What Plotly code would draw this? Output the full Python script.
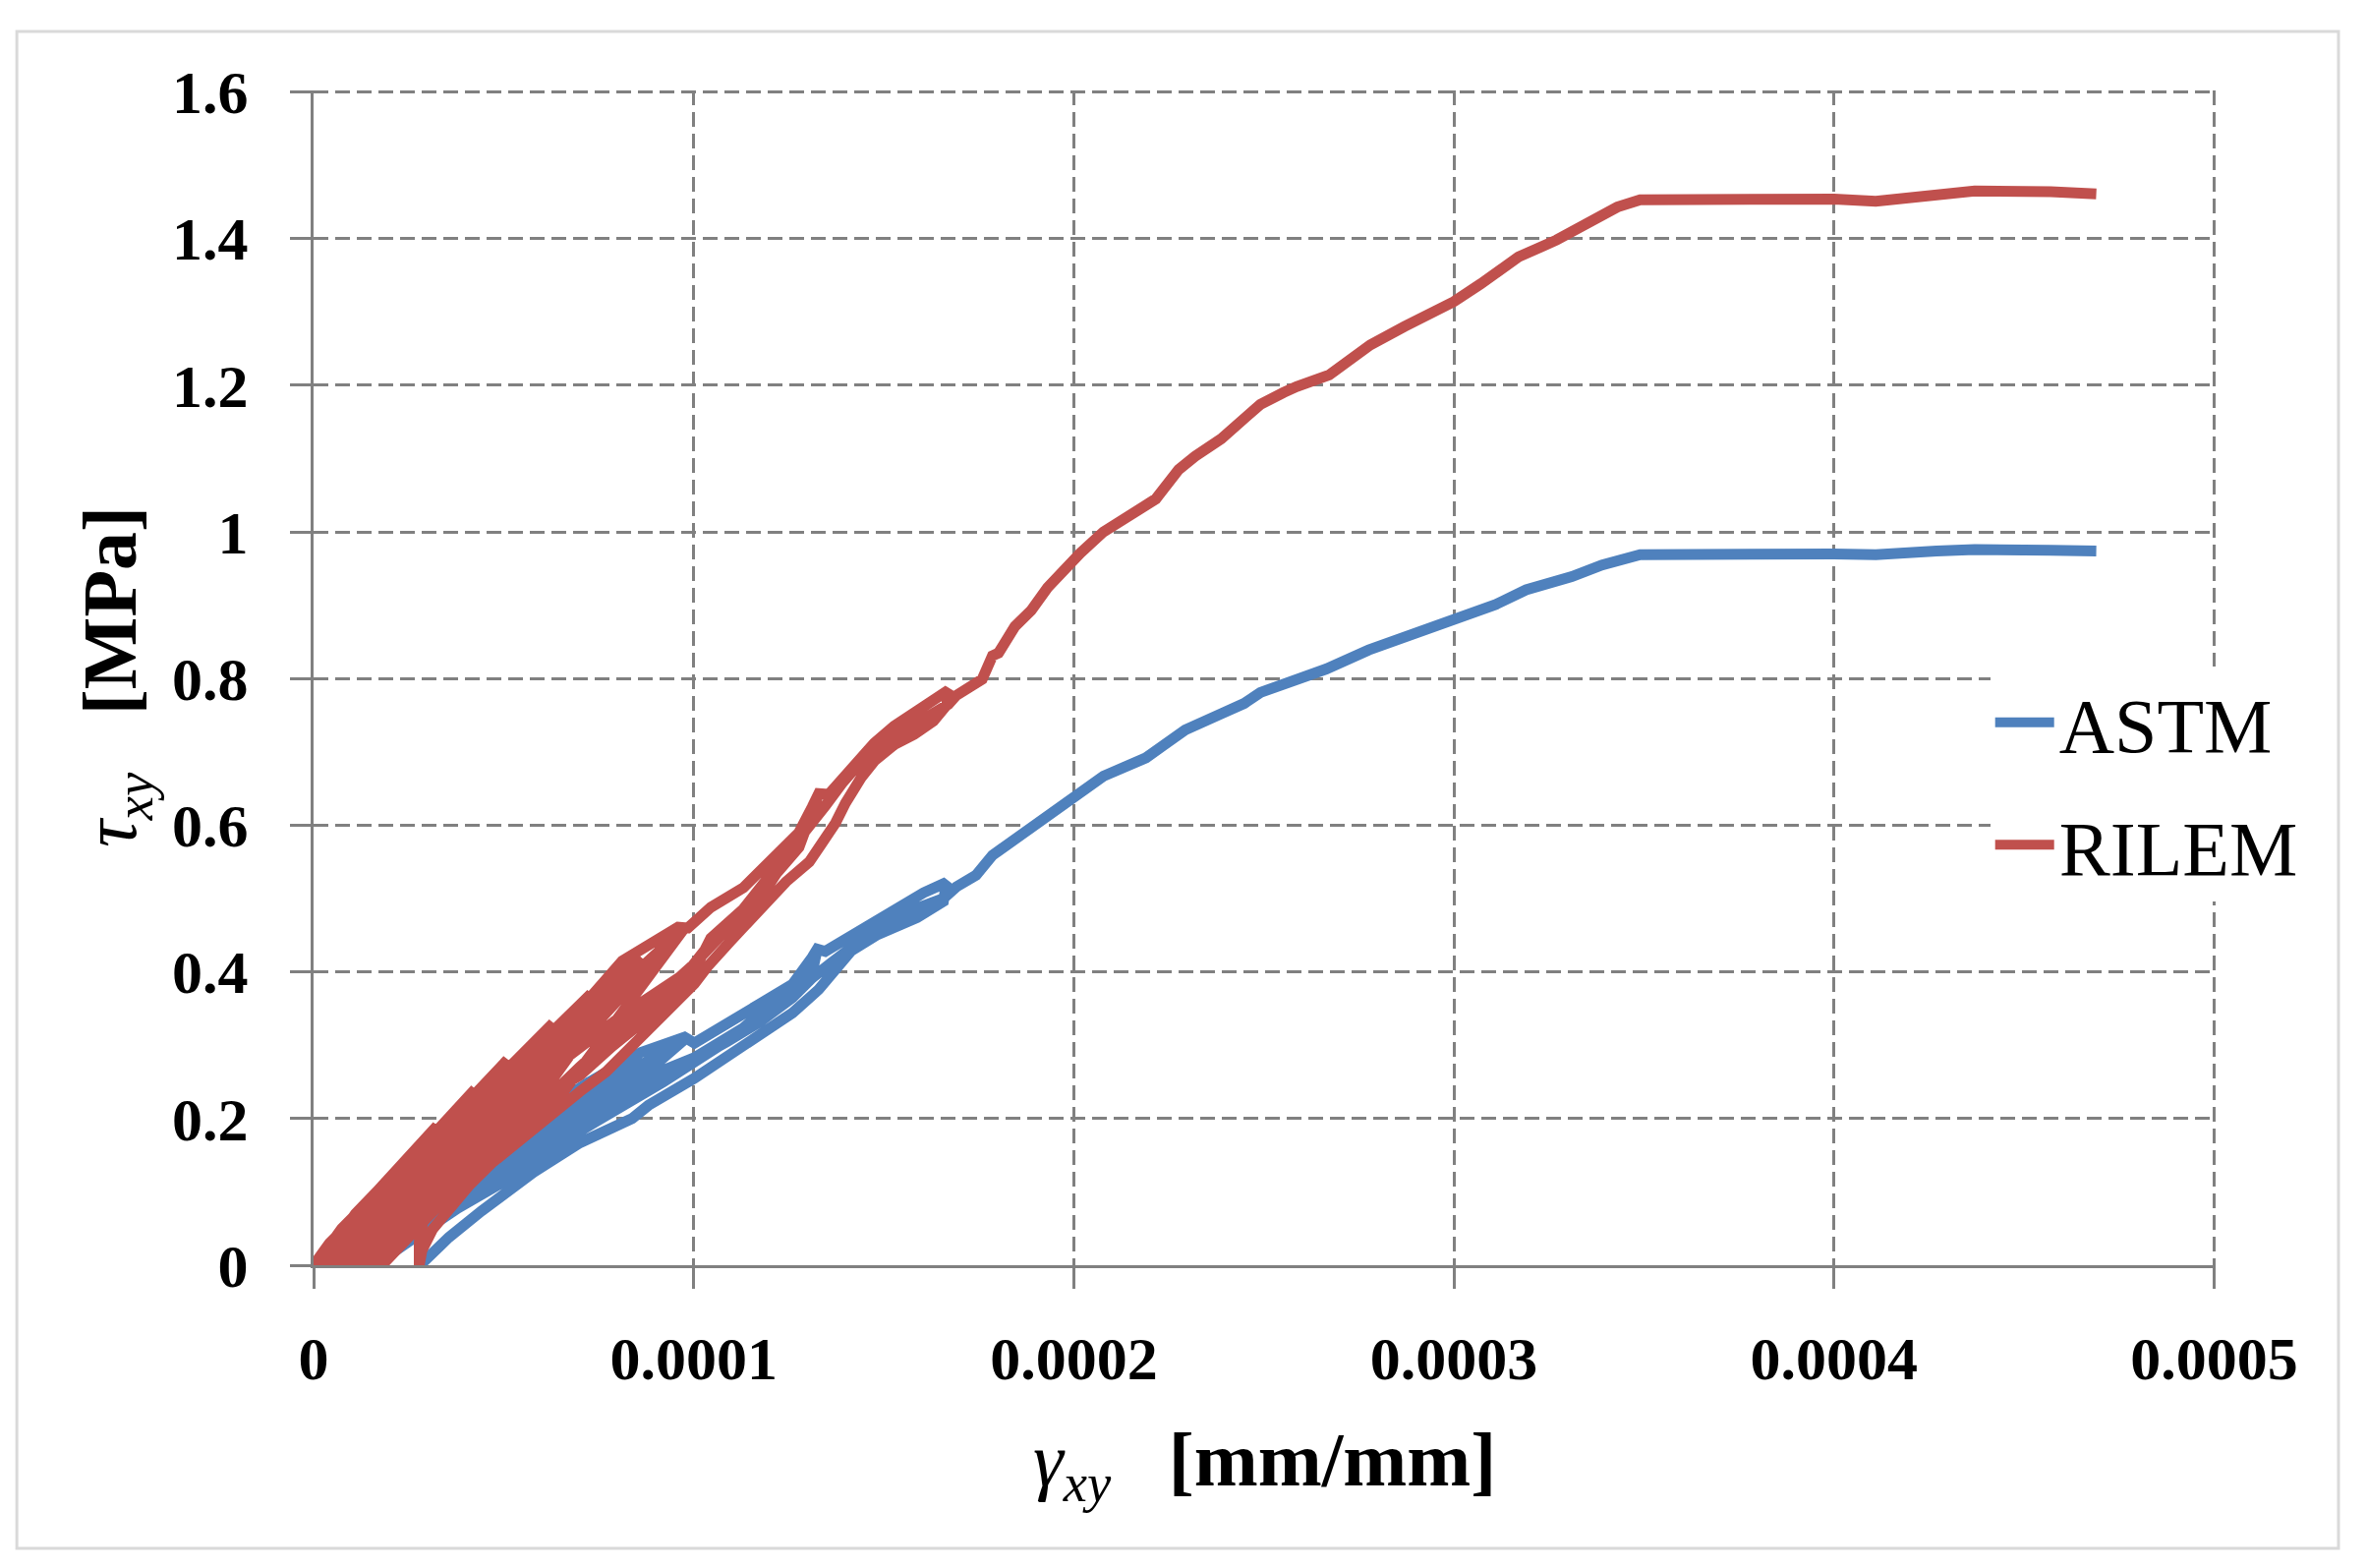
"""Shear stress vs shear strain of masonry panels, ASTM vs RILEM diagonal compression test."""

import numpy as np
import plotly.graph_objects as go

# (shear strain in micro-strain [x 1e-6 mm/mm], shear stress [MPa]).
# Each test: small loading/unloading cycles, larger cycles, then the final monotonic branch.
astm_small_cycles = [
    (0, 0), (5.5, 0.025), (13, 0.05), (8.2, 0.025), (1, 0),
    (7, 0.025), (13, 0.05), (1.5, 0),
    (12.2, 0.05), (27, 0.1), (17, 0.05), (2, 0),
    (14.5, 0.05), (27, 0.1), (3, 0),
    (18.5, 0.075), (40, 0.15), (26.3, 0.075), (5.8, 0),
    (22.9, 0.075), (40, 0.15), (5.8, 0),
    (26.5, 0.1), (55, 0.2), (35.8, 0.1), (7, 0),
    (31, 0.1), (55, 0.2), (7.5, 0),
    (34.8, 0.125), (72.6, 0.25), (47.2, 0.125), (9, 0),
    (40.8, 0.125), (72.6, 0.25), (9.5, 0),
    (41.6, 0.143), (86, 0.285), (55.8, 0.143), (10.5, 0),
    (48.3, 0.143), (86, 0.285), (11, 0),
    (47.4, 0.154), (97.6, 0.308), (63.4, 0.154), (12, 0),
    (54.8, 0.154), (97.6, 0.308), (16, 0),
]
astm_large_cycles = [
    (35, 0.08), (55, 0.16), (72, 0.215), (86, 0.255), (91.6, 0.265), (100.2, 0.283),
    (108.8, 0.31), (117.4, 0.337), (126, 0.372), (131.2, 0.4), (132.5, 0.431),
    (128, 0.39), (110, 0.31), (92, 0.25), (74, 0.195), (50, 0.12), (30, 0.05), (16, 0),
    (48, 0.154), (72.6, 0.25), (86, 0.29), (97.6, 0.311), (100.2, 0.303), (108.8, 0.33),
    (117.4, 0.356), (126, 0.383), (131.2, 0.42), (132.5, 0.431), (134.6, 0.428),
    (143.3, 0.455), (151.9, 0.485), (160.5, 0.508), (166.5, 0.522),
    (165.7, 0.496), (158.8, 0.474), (151.9, 0.458), (148.4, 0.451), (141.5, 0.429),
    (136.4, 0.398), (132.9, 0.376), (126, 0.344), (117.4, 0.313), (108.8, 0.282),
    (100.2, 0.255), (88.1, 0.218), (83.8, 0.2), (70.1, 0.167), (57.9, 0.127),
    (44.2, 0.074), (35.6, 0.038), (28, 0),
    (29, 0.035), (34, 0.068), (42, 0.1), (53, 0.14), (66, 0.18), (78, 0.215), (92, 0.262),
    (100.2, 0.28), (108.8, 0.305), (117.4, 0.332), (126, 0.365), (131.2, 0.392),
    (136.4, 0.413), (143.3, 0.44), (151.9, 0.474), (160.5, 0.49), (165.7, 0.5), (169.1, 0.516),
]
astm_final = [
    (174.3, 0.532), (178.6, 0.559), (184.6, 0.581), (193.2, 0.617), (200, 0.638),
    (207.8, 0.667), (219, 0.692), (221.6, 0.701), (229.3, 0.73), (238.8, 0.752),
    (244.8, 0.766), (249.1, 0.781), (256.9, 0.795), (266.4, 0.813), (277.6, 0.839),
    (286.2, 0.855), (296.6, 0.871), (305.2, 0.888), (311, 0.901), (319, 0.921),
    (331, 0.939), (339, 0.955), (349, 0.969), (400, 0.97), (411, 0.969),
    (427, 0.974), (437, 0.976), (457, 0.975), (469, 0.974),
]

rilem_small_cycles = [
    (0, 0), (4.2, 0.03), (10, 0.06), (0.5, 0),
    (7.4, 0.05), (17, 0.1), (10.6, 0.05), (1, 0),
    (9, 0.05), (17, 0.1), (1.5, 0),
    (11, 0.07), (24, 0.14), (15.6, 0.07), (3, 0),
    (13.5, 0.07), (24, 0.14), (3.5, 0),
    (15.7, 0.095), (32.5, 0.19), (21.8, 0.095), (5.8, 0),
    (19.2, 0.095), (32.5, 0.19), (5.8, 0),
    (21.2, 0.12), (42.5, 0.24), (27.8, 0.12), (5.8, 0),
    (24.2, 0.12), (42.5, 0.24), (7, 0),
    (25.5, 0.14), (51, 0.28), (33.8, 0.14), (8, 0),
    (29.5, 0.14), (51, 0.28), (8.5, 0),
    (31.4, 0.165), (63, 0.33), (41.8, 0.165), (10, 0),
    (36.5, 0.165), (63, 0.33), (10, 0),
    (36.5, 0.185), (73, 0.37), (47.8, 0.185), (10, 0),
    (41.5, 0.185), (73, 0.37), (11.5, 0),
    (42.8, 0.21), (86, 0.42), (56.8, 0.21), (13, 0),
    (49.5, 0.21), (86, 0.42), (14, 0),
    (49.1, 0.23), (97.6, 0.46), (64.8, 0.23), (15.7, 0),
    (56.7, 0.23), (97.6, 0.46), (15.7, 0),
]
rilem_large_cycles = [
    (30, 0.09), (46.7, 0.2), (64, 0.273), (81, 0.34), (98.4, 0.4), (104.5, 0.44),
    (113.1, 0.482), (121.7, 0.536), (127.7, 0.57), (132.9, 0.643),
    (130, 0.6), (120, 0.52), (100, 0.41), (70, 0.27), (40, 0.12), (18, 0),
    (50, 0.23), (81.2, 0.415), (87.2, 0.433), (95.9, 0.461), (98.5, 0.46), (104.5, 0.488),
    (113.1, 0.515), (121.7, 0.56), (127.7, 0.59), (131.2, 0.625), (132.9, 0.643),
    (135.5, 0.642), (140.6, 0.672), (147.5, 0.712), (152.7, 0.735), (159.6, 0.758),
    (165.6, 0.776), (167, 0.784),
    (166.6, 0.764), (163.1, 0.742), (158, 0.724), (152.8, 0.71), (147.6, 0.688),
    (144.2, 0.666), (139.9, 0.63), (137.3, 0.603), (133.8, 0.576), (130.4, 0.55),
    (124.3, 0.523), (117.4, 0.487), (109.7, 0.442), (103.6, 0.407), (100.2, 0.384),
    (92.5, 0.344), (83.9, 0.299), (77, 0.264), (70.1, 0.237), (61.5, 0.201),
    (54.6, 0.175), (46.8, 0.139), (40.8, 0.108), (35.6, 0.077), (31.3, 0.049),
    (28.5, 0.02), (27.8, 0),
    (27.8, 0.032), (28.7, 0.058), (33, 0.094), (38.2, 0.13), (44.2, 0.161), (52.8, 0.201),
    (59.7, 0.228), (70.1, 0.259), (78.7, 0.299), (87.3, 0.335), (95.9, 0.371),
    (100.5, 0.405), (104.5, 0.446), (113.1, 0.486), (121.7, 0.54), (130.4, 0.597),
    (134.7, 0.627), (139, 0.657), (144.2, 0.688), (152, 0.718), (158, 0.737),
    (163.1, 0.755), (167, 0.765), (169.1, 0.777), (173.4, 0.793),
]
rilem_final = [
    (175.9, 0.799), (178.6, 0.831), (180.2, 0.835), (184.5, 0.871), (188.8, 0.893),
    (193.1, 0.924), (198.3, 0.955), (201.7, 0.971), (207.8, 1.0), (212.9, 1.018),
    (219, 1.036), (221.6, 1.045), (227.6, 1.085), (231.9, 1.103), (238.8, 1.127),
    (244.8, 1.152), (249.1, 1.174), (255.2, 1.19), (258.6, 1.198), (267.2, 1.214),
    (278, 1.255), (287, 1.28), (300, 1.314), (307, 1.338), (317, 1.375), (327, 1.398),
    (335, 1.42), (343, 1.443), (349, 1.453), (367, 1.454), (400, 1.454), (411, 1.451),
    (427, 1.461), (437, 1.465), (457, 1.464), (469, 1.461),
]

x_ticks = [0, 0.0001, 0.0002, 0.0003, 0.0004, 0.0005]
x_labels = ["0", "0.0001", "0.0002", "0.0003", "0.0004", "0.0005"]
y_ticks = [0, 0.2, 0.4, 0.6, 0.8, 1.0, 1.2, 1.4, 1.6]
y_labels = ["0", "0.2", "0.4", "0.6", "0.8", "1", "1.2", "1.4", "1.6"]

BLUE = "#4F81BD"
RED = "#C0504D"
GRID = "#808080"
SERIF = "Liberation Serif"
SP = "\u00a0\u00a0\u00a0"


def to_xy(*parts):
    """Join the pieces of one test record into x (mm/mm) and y (MPa) arrays."""
    pts = np.array([p for part in parts for p in part], dtype=float)
    return pts[:, 0] * 1e-6, pts[:, 1]


astm_x, astm_y = to_xy(astm_small_cycles, astm_large_cycles, astm_final)
rilem_x, rilem_y = to_xy(rilem_small_cycles, rilem_large_cycles, rilem_final)

fig = go.Figure()
fig.add_trace(go.Scatter(
    x=astm_x, y=astm_y, mode="lines", name="ASTM",
    legendgroup="astm", line=dict(color=BLUE, width=11),
))
fig.add_trace(go.Scatter(
    x=rilem_x, y=rilem_y, mode="lines", name="RILEM",
    legendgroup="rilem", line=dict(color=RED, width=11),
))

axis_style = dict(
    showline=True, linecolor=GRID, linewidth=3,
    showgrid=True, gridcolor=GRID, gridwidth=3, griddash="15px,7px",
    ticks="outside", ticklen=21, tickwidth=3, tickcolor=GRID,
    tickfont=dict(family=SERIF, size=62, color="black", weight="bold"),
    zeroline=False,
)
# ranges nudged a hair past the last tick so the top/right grid lines are kept
fig.update_xaxes(range=[0, 0.0005004], tickvals=x_ticks, ticktext=x_labels,
                 ticklabelstandoff=18, **axis_style)
fig.update_yaxes(range=[0, 1.602], tickvals=y_ticks, ticktext=y_labels,
                 ticklabelstandoff=30, **axis_style)

fig.update_layout(
    width=2408, height=1595,
    margin=dict(l=319, r=154, t=92, b=308, pad=0),
    plot_bgcolor="white", paper_bgcolor="white",
    legend=dict(
        x=0.8815, y=0.510, xanchor="left", yanchor="top",
        bgcolor="white", borderwidth=0, itemwidth=60, tracegroupgap=20,
        font=dict(family=SERIF, size=78, color="black"),
    ),
    annotations=[
        dict(text="<i>γ<sub>xy</sub></i>" + SP + "<b>[mm/mm]</b>",
             x=0.5, y=-0.170, xref="paper", yref="paper", showarrow=False,
             xanchor="center", yanchor="middle",
             font=dict(family=SERIF, size=78, color="black")),
        dict(text="<i>τ<sub>xy</sub></i>" + SP + "<b>[MPa]</b>",
             x=-0.104, y=0.501, xref="paper", yref="paper", showarrow=False,
             xanchor="center", yanchor="middle", textangle=-90,
             font=dict(family=SERIF, size=78, color="black")),
    ],
    shapes=[
        dict(type="rect", xref="paper", yref="paper",
             x0=-0.156, x1=1.0646, y0=-0.241, y1=1.0502,
             line=dict(color="#D9D9D9", width=3), layer="below"),
    ],
)

fig.write_html(
    "out.html",
    config={"displayModeBar": False},
    post_script="document.body.style.margin='0';document.body.style.overflow='hidden';",
)
